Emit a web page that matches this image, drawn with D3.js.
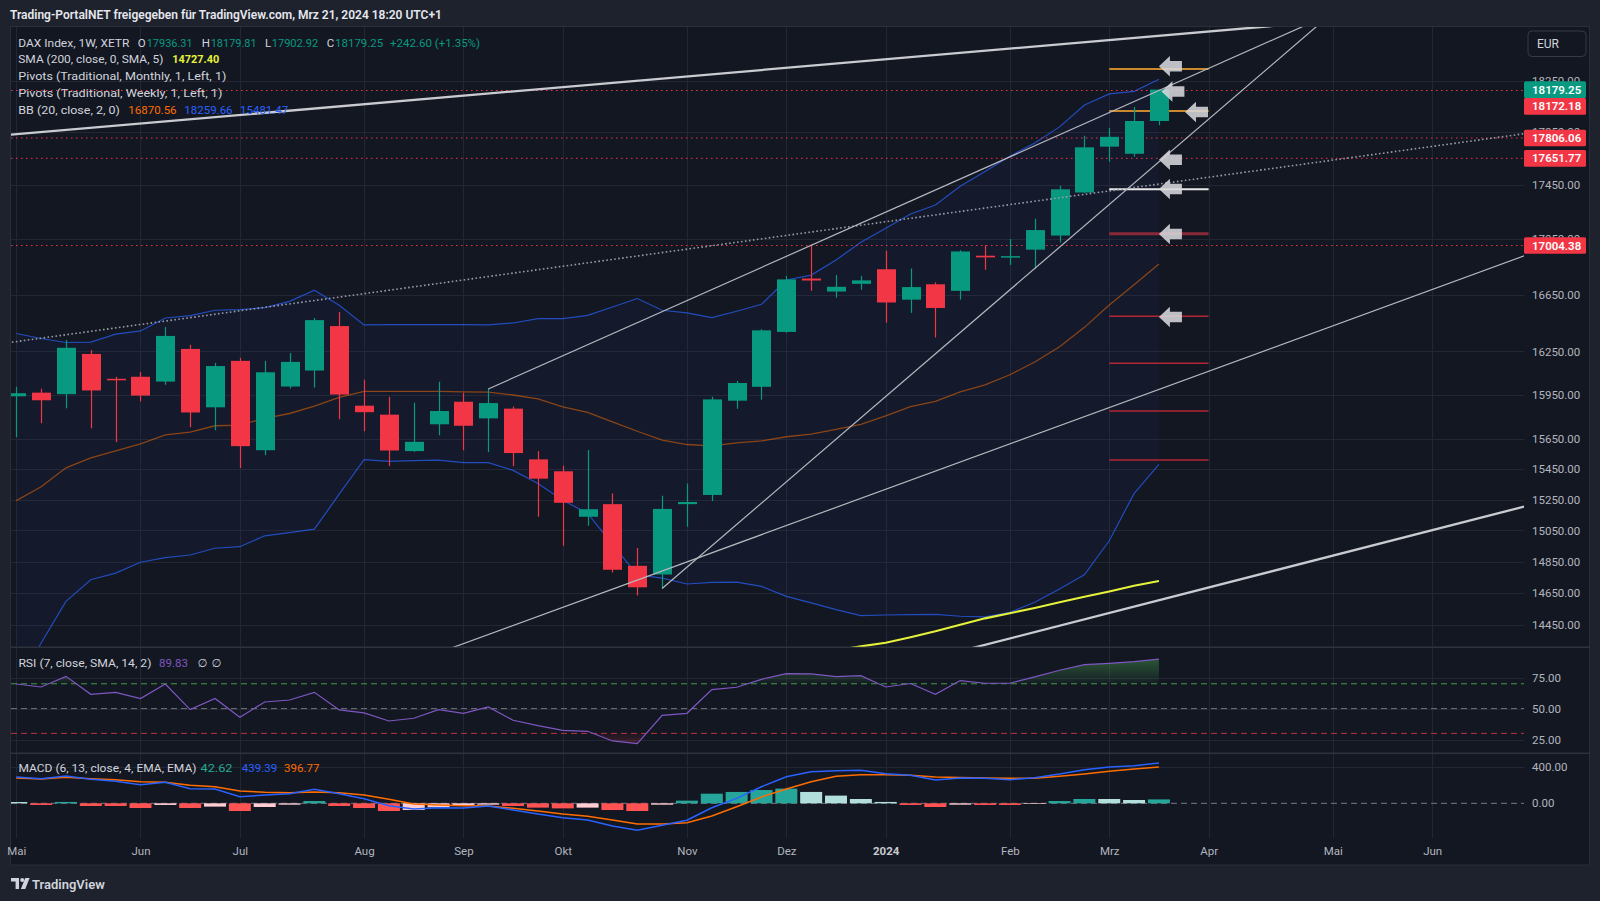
<!DOCTYPE html>
<html><head><meta charset="utf-8">
<script src="https://cdn.jsdelivr.net/npm/d3@7/dist/d3.min.js"></script>
<style>
html,body{margin:0;padding:0;background:#1e222d;overflow:hidden;}
svg{display:block;}
text{font-family:Roboto,"Noto Sans","DejaVu Sans",sans-serif;}
</style></head><body>
<svg id="chart" width="1600" height="901"></svg>
<script>
// ================= DATA =================
const weeks = ["2023-05-01","2023-05-08","2023-05-15","2023-05-22","2023-05-29","2023-06-05","2023-06-12","2023-06-19","2023-06-26","2023-07-03","2023-07-10","2023-07-17","2023-07-24","2023-07-31","2023-08-07","2023-08-14","2023-08-21","2023-08-28","2023-09-04","2023-09-11","2023-09-18","2023-09-25","2023-10-02","2023-10-09","2023-10-16","2023-10-23","2023-10-30","2023-11-06","2023-11-13","2023-11-20","2023-11-27","2023-12-04","2023-12-11","2023-12-18","2023-12-25","2024-01-01","2024-01-08","2024-01-15","2024-01-22","2024-01-29","2024-02-05","2024-02-12","2024-02-19","2024-02-26","2024-03-04","2024-03-11","2024-03-18"];
const open  = [15940,15965,15955,16232,16060,16074,16041,16267,15865,16184,15576,16007,16117,16427,15876,15815,15570,15750,15903,15790,15856,15515,15436,15138,15220,14823,14768,15220,15280,15910,16005,16386,16765,16672,16727,16832,16614,16724,16677,16930,16920,16974,17077,17395,17740,17686,17936.31];
const high  = [16005,15992,16330,16260,16074,16108,16420,16296,16170,16205,16184,16239,16484,16526,16054,15937,15896,16040,15964,15990,15870,15570,15473,15577,15290,14937,15275,15355,15937,16045,16405,16784,17012,16790,16784,16966,16838,16738,16970,17007,17052,17201,17446,17824,17885,18044,18179.81];
const low   = [15663,15757,15858,15723,15630,15905,16019,15730,15710,15457,15543,15994,16000,15784,15703,15470,15565,15676,15576,15563,15470,15138,14951,15080,14780,14636,14680,15073,15240,15855,15917,16380,16677,16628,16685,16451,16520,16347,16614,16828,16863,16836,17026,17389,17626,17664,17902.92];
const close = [15961,15913,16275,15980,16051,15945,16358,15830,16148,15603,16105,16177,16469,15952,15832,15574,15632,15840,15740,15894,15557,15387,15229,15187,14798,14687,15189,15234,15919,16031,16397,16759,16751,16706,16752,16594,16704,16555,16961,16918,16927,17117,17419,17735,17815,17936.31,18179.25];

const bbUpper = [16375,16340,16312,16315,16370,16393,16484,16501,16539,16544,16558,16602,16681,16574,16435,16437,16437,16437,16437,16436,16449,16480,16480,16503,16562,16622,16539,16520,16487,16532,16581,16755,16790,16899,17028,17131,17235,17302,17441,17553,17667,17768,17891,18060,18146,18166,18259.66];
const bbBasis = [15243,15334,15459,15525,15572,15619,15679,15697,15740,15745,15790,15823,15873,15932,15974,15974,15974,15974,15970,15968,15949,15922,15868,15830,15767,15703,15643,15614,15605,15625,15638,15666,15684,15716,15750,15807,15870,15906,15971,16019,16088,16176,16282,16418,16576,16720,16870.56];
const bbLower = [14059,14341,14599,14735,14777,14846,14875,14892,14935,14945,15015,15035,15058,15285,15513,15501,15506,15510,15493,15493,15442,15355,15246,15160,14960,14766,14745,14708,14718,14720,14693,14630,14589,14547,14510,14514,14516,14518,14506,14502,14530,14593,14676,14766,14983,15289,15481.47];

const smaIdx = [33,34,35,36,37,38,39,40,41,42,43,44,45,46];
const smaVal = [14296,14320,14342,14376,14413,14454,14493,14525,14558,14593,14628,14661,14697,14727.40];

const rsi = [69.8,67.4,76,61.5,63.1,58.1,69.8,49.2,58.1,43,55.3,56.9,63.1,48.9,46.5,40,42.2,49.2,46.2,51.3,40.6,36.3,32.5,31.7,23.9,21.8,44.6,46.2,65.3,67.2,73.6,78.2,77.9,75.8,76.6,67.4,70.2,61.5,72.6,70.4,70.4,75.5,80.9,85.5,86.5,87.9,89.83];

const macdLine   = [287,268,298,262,240,203,229,159,156,72,90,105,153,105,50,-26,-62,-48,-51,-29,-73,-117,-157,-182,-247,-294,-240,-185,-48,54,181,290,344,355,360,323,305,254,276,272,257,279,319,366,396,410,439.39];
const macdSignal = [276,265,283,269,257,236,229,196,181,134,120,116,123,116,90,44,-8,-19,-26,-29,-54,-84,-117,-142,-182,-226,-226,-211,-138,-37,69,156,236,294,312,312,305,287,280,276,272,272,294,319,349,374,396.77];
const macdHist   = [14,-18,15,-29,-29,-51,-18,-51,-36,-84,-40,-15,25,-29,-51,-84,-73,-44,-22,-15,-29,-47,-55,-47,-73,-84,-15,29,105,124,145,160,124,84,47,15,-18,-40,-15,-18,-18,-7,25,47,47,36,42.62];

const priceTicks = [18250,17850,17450,17050,16650,16250,15950,15650,15450,15250,15050,14850,14650,14450];
const rsiTicks = [75,50,25];
const macdTicks = [400,0];
const monthLabels = ["Mai","Jun","Jul","Aug","Sep","Okt","Nov","Dez","2024","Feb","Mrz","Apr","Mai","Jun"];
const monthIdx    = [0,5,9,14,18,22,27,31,35,40,44,48,53,57];

const lastPrice = 18179.25;
const hLinePrices = [18172.18,17806.06,17651.77,17004.38];

const pivotRole  = ["R2","R1","P","S1","S2","S3","S4","S5"];
const pivotPrice = [18340,18013,17419,17090,16496,16167,15840,15511];
const pivotFrom = 44, pivotTo = 48;

const arrowIdx   = [46,46.1,47.05,46,46,46,46];
const arrowPrice = [18362,18164,18005,17641,17421,17088,16491];

// trend line anchors: [week index, price]
const trendA = [[-0.2456,17831],[-0.213,16313],[19,15990],[26,14680],[17.66,14318],[46.85,14640]];
const trendB = [[44.03,18570],[48.46,17521],[48.46,18385],[48.46,18026],[48.46,16141],[60.7,15204]];
const trendKind = ["thick","dotted","thin","thin","thin","thick"];
const trendExtLeft = [true,true,false,false,true,true];

// ================= LAYOUT =================
const PL=11, PR=1524, MT=27, MB=646.7, RT=647.3, RB=753.3, CT=753.3, CB=838;
const GREEN="#089981", RED="#f23645", GRID="#232733", AXT="#b2b5be";

const svg = d3.select("#chart");
const x  = d3.scaleLinear().domain([0,53]).range([16.3,1332.8]);
const y  = d3.scaleLog().domain([14318,18673.6]).range([MB,MT]);
const yR = d3.scaleLinear().domain([13.95,99.4]).range([RB,RT]);
const yM = d3.scaleLinear().domain([-378,545]).range([CB,CT]);

svg.append("rect").attr("width",1600).attr("height",901).attr("fill","#1e222d");
svg.append("rect").attr("x",10.5).attr("y",26.5).attr("width",1579).attr("height",838.5)
  .attr("fill","#131722").attr("stroke","#2a2e39");

const defs = svg.append("defs");
function clip(id,x0,y0,w,h){defs.append("clipPath").attr("id",id).append("rect").attr("x",x0).attr("y",y0).attr("width",w).attr("height",h);}
clip("cMain",PL,MT,PR-PL,MB-MT);
clip("cRsi",PL,RT,PR-PL,RB-RT);
clip("cMacd",PL,CT,PR-PL,CB-CT);
clip("cRsiUp",PL,RT,PR-PL,yR(70)-RT);
clip("cRsiDn",PL,yR(30),PR-PL,RB-yR(30));

// ---------- grid ----------
const grid = svg.append("g").attr("shape-rendering","crispEdges");
grid.selectAll(".vg").data(monthIdx).join("line")
  .attr("x1",d=>Math.round(x(d))+0.5).attr("x2",d=>Math.round(x(d))+0.5)
  .attr("y1",MT).attr("y2",CB).attr("stroke",GRID);
grid.selectAll(".hg").data(priceTicks).join("line")
  .attr("x1",PL).attr("x2",PR).attr("y1",d=>Math.round(y(d))+0.5).attr("y2",d=>Math.round(y(d))+0.5).attr("stroke",GRID);
grid.selectAll(".rg").data(rsiTicks).join("line")
  .attr("x1",PL).attr("x2",PR).attr("y1",d=>Math.round(yR(d))+0.5).attr("y2",d=>Math.round(yR(d))+0.5).attr("stroke",GRID);
grid.append("line").attr("x1",PL).attr("x2",PR).attr("y1",Math.round(yM(400))+0.5).attr("y2",Math.round(yM(400))+0.5).attr("stroke",GRID);
[RT,CT].forEach(v=>svg.append("line").attr("x1",PL).attr("x2",1590).attr("y1",v).attr("y2",v).attr("stroke","#2e323d").attr("stroke-width",1.5));

// ---------- main pane ----------
const main = svg.append("g").attr("clip-path","url(#cMain)");
const idx = weeks.map((w,i)=>i);

main.append("path").datum(idx)
  .attr("d",d3.area().x(i=>x(i)).y0(i=>y(bbLower[i])).y1(i=>y(bbUpper[i])))
  .attr("fill","rgba(41,98,255,0.045)");
const ln = arr => d3.line().x((d,i)=>x(i)).y(d=>y(d))(arr);
main.append("path").attr("d",ln(bbUpper)).attr("fill","none").attr("stroke","#2962ff").attr("stroke-opacity",0.7).attr("stroke-width",1.2);
main.append("path").attr("d",ln(bbLower)).attr("fill","none").attr("stroke","#2962ff").attr("stroke-opacity",0.7).attr("stroke-width",1.2);
main.append("path").attr("d",ln(bbBasis)).attr("fill","none").attr("stroke","#ff6d00").attr("stroke-opacity",0.5).attr("stroke-width",1.3);
main.append("path").attr("d",d3.line().x((d,i)=>x(smaIdx[i])).y(d=>y(d))(smaVal))
  .attr("fill","none").attr("stroke","#e6f23a").attr("stroke-width",2.1);

main.selectAll(".hl").data(hLinePrices).join("line")
  .attr("x1",PL).attr("x2",PR).attr("y1",d=>y(d)).attr("y2",d=>y(d))
  .attr("stroke",RED).attr("stroke-width",1).attr("stroke-dasharray","1.5,3.5");

const pivStyle = r => r==="P" ? {c:"#e8e8ea",w:2} : r[0]==="R" ? {c:"#c9892c",w:2} : r==="S1" ? {c:"#8a2a38",w:3} : {c:"#b32636",w:1.6};
main.selectAll(".pv").data(pivotPrice).join("line")
  .attr("x1",x(pivotFrom)).attr("x2",x(pivotTo)).attr("y1",d=>y(d)).attr("y2",d=>y(d))
  .attr("stroke",(d,i)=>pivStyle(pivotRole[i]).c).attr("stroke-width",(d,i)=>pivStyle(pivotRole[i]).w);

const cg = main.append("g");
const bw = 19;
const col = i => close[i]>=open[i] ? GREEN : RED;
cg.selectAll(".wk").data(idx).join("line")
  .attr("x1",i=>Math.round(x(i))+0.5).attr("x2",i=>Math.round(x(i))+0.5)
  .attr("y1",i=>y(high[i])).attr("y2",i=>y(low[i])).attr("stroke",col).attr("stroke-width",1.2);
cg.selectAll(".bd").data(idx).join("rect")
  .attr("x",i=>Math.round(x(i))+0.5-bw/2).attr("width",bw)
  .attr("y",i=>y(Math.max(open[i],close[i])))
  .attr("height",i=>Math.max(1.5,Math.abs(y(open[i])-y(close[i]))))
  .attr("fill",col);

const tStyle = {thick:{c:"#c9cbd1",w:2.3,d:null},thin:{c:"#b6b8bf",w:1.2,d:null},dotted:{c:"#9a9da6",w:1.6,d:"1.6,2.4"}};
trendA.forEach((a,k)=>{
  const b=trendB[k];
  const x1=x(a[0]),y1=y(a[1]),x2=x(b[0]),y2=y(b[1]);
  const m=(y2-y1)/(x2-x1);
  const xa = trendExtLeft[k]?0:x1, xb=1600;
  const s=tStyle[trendKind[k]];
  main.append("line").attr("x1",xa).attr("y1",y1+m*(xa-x1)).attr("x2",xb).attr("y2",y1+m*(xb-x1))
    .attr("stroke",s.c).attr("stroke-width",s.w).attr("stroke-dasharray",s.d);
});

const arrowPath = "M0,0 L11,-10.3 L11,-5.2 L23,-5.2 L23,5.2 L11,5.2 L11,10.3 Z";
main.selectAll(".ar").data(arrowIdx).join("path")
  .attr("d",arrowPath).attr("transform",(d,i)=>`translate(${x(d)},${y(arrowPrice[i])})`)
  .attr("fill","#d6d7db").attr("fill-opacity",0.88);

// ---------- RSI pane ----------
const rg = svg.append("g").attr("clip-path","url(#cRsi)");
const gU = defs.append("linearGradient").attr("id","gU").attr("gradientUnits","userSpaceOnUse").attr("x1",0).attr("x2",0).attr("y1",yR(100)).attr("y2",yR(70));
gU.append("stop").attr("offset",0).attr("stop-color","#4caf50").attr("stop-opacity",0.6);
gU.append("stop").attr("offset",1).attr("stop-color","#4caf50").attr("stop-opacity",0.04);
const gD = defs.append("linearGradient").attr("id","gD").attr("gradientUnits","userSpaceOnUse").attr("x1",0).attr("x2",0).attr("y1",yR(30)).attr("y2",yR(0));
gD.append("stop").attr("offset",0).attr("stop-color","#f23645").attr("stop-opacity",0.04);
gD.append("stop").attr("offset",1).attr("stop-color","#f23645").attr("stop-opacity",0.6);
rg.append("path").attr("clip-path","url(#cRsiUp)").attr("d",d3.area().x((d,i)=>x(i)).y0(yR(70)).y1(d=>yR(d))(rsi)).attr("fill","url(#gU)");
rg.append("path").attr("clip-path","url(#cRsiDn)").attr("d",d3.area().x((d,i)=>x(i)).y0(yR(30)).y1(d=>yR(d))(rsi)).attr("fill","url(#gD)");
[[70,"#4caf50",0.85],[50,"#787b86",0.9],[30,"#d03442",0.9]].forEach(([v,c,o])=>
  rg.append("line").attr("x1",PL).attr("x2",PR).attr("y1",yR(v)).attr("y2",yR(v)).attr("stroke",c).attr("stroke-opacity",o).attr("stroke-dasharray","6,4"));
rg.append("path").attr("d",d3.line().x((d,i)=>x(i)).y(d=>yR(d))(rsi)).attr("fill","none").attr("stroke","#7e57c2").attr("stroke-width",1.2);

// ---------- MACD pane ----------
const mg = svg.append("g").attr("clip-path","url(#cMacd)");
mg.append("line").attr("x1",PL).attr("x2",PR).attr("y1",yM(0)).attr("y2",yM(0)).attr("stroke","#787b86").attr("stroke-dasharray","6,4");
const hcol = i => { const v=macdHist[i], p = i>0?macdHist[i-1]:Infinity;
  return v>=0 ? (v>p?"#26a69a":"#b2dfdb") : (v>p?"#ffcdd2":"#ff5252"); };
mg.selectAll(".hb").data(idx).join("rect")
  .attr("x",i=>x(i)-11).attr("width",22)
  .attr("y",i=>Math.min(yM(0),yM(macdHist[i]))).attr("height",i=>Math.abs(yM(macdHist[i])-yM(0)))
  .attr("fill",hcol);
const lm = arr => d3.line().x((d,i)=>x(i)).y(d=>yM(d))(arr);
mg.append("path").attr("d",lm(macdSignal)).attr("fill","none").attr("stroke","#ff6d00").attr("stroke-width",1.5);
mg.append("path").attr("d",lm(macdLine)).attr("fill","none").attr("stroke","#2962ff").attr("stroke-width",1.5);

// ---------- axes ----------
function styleAxis(g){
  g.attr("font-family",null).attr("font-size",null);
  g.select(".domain").remove();
  g.selectAll("text").attr("fill",AXT).style("font-size","11.5px");
}
const ay = svg.append("g").attr("transform",`translate(${PR},0)`)
  .call(d3.axisRight(y).tickValues(priceTicks).tickFormat(d3.format(".2f")).tickSize(0).tickPadding(8));
styleAxis(ay);
const ar = svg.append("g").attr("transform",`translate(${PR},0)`)
  .call(d3.axisRight(yR).tickValues(rsiTicks).tickFormat(d3.format(".2f")).tickSize(0).tickPadding(8));
styleAxis(ar);
const am = svg.append("g").attr("transform",`translate(${PR},0)`)
  .call(d3.axisRight(yM).tickValues(macdTicks).tickFormat(d3.format(".2f")).tickSize(0).tickPadding(8));
styleAxis(am);
const ax = svg.append("g").attr("transform",`translate(0,${CB})`)
  .call(d3.axisBottom(x).tickValues(monthIdx).tickFormat((d,i)=>monthLabels[i]).tickSize(0).tickPadding(9));
styleAxis(ax);
ax.selectAll("text").filter((d,i)=>monthLabels[i]==="2024").style("font-weight","700").attr("fill","#c8cad0");

// ---------- price tags ----------
const tags = [{p:lastPrice,c:GREEN}].concat(hLinePrices.map(p=>({p,c:RED})));
let placed=[];
tags.forEach(t=>{ let cy=y(t.p);
  placed.forEach(o=>{ if(Math.abs(cy-o)<16.7) cy=o+16.7; });
  placed.push(cy); t.cy=cy; });
const tg = svg.append("g");
tg.selectAll("rect").data(tags).join("rect").attr("x",PR).attr("width",62).attr("y",d=>d.cy-8.35).attr("height",16.7).attr("fill",d=>d.c).attr("rx",1.5);
tg.selectAll("text").data(tags).join("text").attr("x",1532).attr("y",d=>d.cy).attr("dy","0.36em")
  .attr("fill","#ffffff").style("font-size","11.5px").style("font-weight","600").text(d=>d3.format(".2f")(d.p));

svg.append("rect").attr("x",1528).attr("y",31).attr("width",58).attr("height",25.5).attr("rx",4)
  .attr("fill","#131722").attr("stroke","#363a45");
svg.append("text").attr("x",1537).attr("y",44).attr("dy","0.35em").attr("fill","#d1d4dc").style("font-size","12px").text("EUR");

// ---------- texts ----------
function txt(xx,yy,s,fill,size,weight,w){
  const t = svg.append("text").attr("x",xx).attr("y",yy).attr("dy","0.35em").attr("fill",fill)
    .style("font-size",size+"px").style("font-weight",weight||400).text(s);
  if(w){ const L=t.node().getComputedTextLength(); if(Math.abs(L-w)/w>0.03) t.attr("textLength",w).attr("lengthAdjust","spacingAndGlyphs"); }
  return t;
}
const LBL="#d1d4dc";
txt(10,14.5,"Trading-PortalNET freigegeben für TradingView.com, Mrz 21, 2024 18:20 UTC+1","#e6e8ee",12,600,423);
txt(18.3,42.7,"DAX Index, 1W, XETR",LBL,11.5,400,111);
txt(137.7,42.7,"O",LBL,11.5); txt(146.7,42.7,"17936.31",GREEN,11.5,400,46);
txt(201.7,42.7,"H",LBL,11.5); txt(210.7,42.7,"18179.81",GREEN,11.5,400,46);
txt(265,42.7,"L",LBL,11.5);   txt(271.7,42.7,"17902.92",GREEN,11.5,400,46.5);
txt(326.7,42.7,"C",LBL,11.5); txt(335,42.7,"18179.25",GREEN,11.5,400,47.5);
txt(390,42.7,"+242.60 (+1.35%)",GREEN,11.5,400,90);
txt(18.3,59.3,"SMA (200, close, 0, SMA, 5)",LBL,11.5,400,145);
txt(172.3,59.3,"14727.40","#e6f23a",11.5,700,47);
txt(18.3,76.3,"Pivots (Traditional, Monthly, 1, Left, 1)",LBL,11.5,400,208);
txt(18.3,92.7,"Pivots (Traditional, Weekly, 1, Left, 1)",LBL,11.5,400,204);
txt(18.3,110,"BB (20, close, 2, 0)",LBL,11.5,400,101.5);
txt(128.3,110,"16870.56","#ff6d00",11.5,400,47);
txt(184.3,110,"18259.66","#2962ff",11.5,400,47);
txt(240,110,"15481.47","#2962ff",11.5,400,47);
txt(18.4,663.3,"RSI (7, close, SMA, 14, 2)",LBL,11.5,400,133);
txt(159,663.3,"89.83","#7e57c2",11.5,400,29);
txt(197.5,663.3,"∅",LBL,11.5); txt(211.5,663.3,"∅",LBL,11.5);
txt(18.4,768.3,"MACD (6, 13, close, 4, EMA, EMA)",LBL,11.5,400,178);
txt(200.5,768.3,"42.62","#22ab94",11.5,400,32);
txt(241.8,768.3,"439.39","#2962ff",11.5,400,35);
txt(284,768.3,"396.77","#ff6d00",11.5,400,36);

const lg = svg.append("g").attr("transform","translate(11,878)").attr("fill","#d1d4dc");
lg.append("path").attr("d","M0,0 H8 V11 H4.6 V3.4 H0 Z");
lg.append("circle").attr("cx",11.2).attr("cy",2).attr("r",2);
lg.append("path").attr("d","M14.2,0 H18.6 L14.3,11 H9.9 Z");
txt(32,884,"TradingView","#d1d4dc",13,600,71);
</script></body></html>
